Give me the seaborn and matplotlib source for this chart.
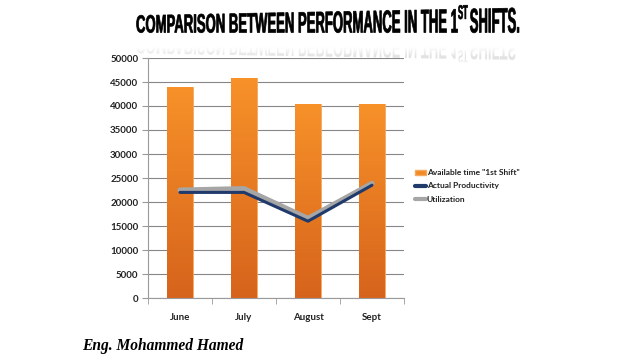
import numpy as np
import pandas as pd
import matplotlib
matplotlib.use('Agg')
import matplotlib.pyplot as plt
import seaborn as sns
from matplotlib.textpath import TextPath
from matplotlib.font_manager import FontProperties
from matplotlib.patches import PathPatch, Patch
from matplotlib.path import Path
from matplotlib.lines import Line2D

months = ["June", "July", "August", "Sept"]
available = [44000, 45800, 40400, 40400]
actual = [22000, 22000, 16000, 23500]
utilization = [22500, 22800, 16600, 23900]
yticks = list(range(0, 50001, 5000))

sns.set_style("white")
plt.rcParams['font.family'] = ['Lato', 'DejaVu Sans']

W, H = 638, 359
fig = plt.figure(figsize=(W / 100, H / 100), dpi=100)
ax = fig.add_axes([148 / W, 1 - 298 / H, (404 - 148) / W, (298 - 58) / H])

df = pd.DataFrame({"month": months, "available": available})
sns.barplot(data=df, x="month", y="available", color="#F28A24", width=0.4,
            saturation=1, ax=ax, zorder=2, edgecolor="#F5A860", linewidth=0.6)

# vertical orange gradient in each bar
grad = np.linspace(0, 1, 256).reshape(-1, 1)
top = np.array([0.97, 0.57, 0.16])
bot = np.array([0.84, 0.39, 0.11])
img = top[None, None, :] * (1 - grad[..., None]) + bot[None, None, :] * grad[..., None]
for p in list(ax.patches):
    x0, y0 = p.get_x(), p.get_y()
    w, h = p.get_width(), p.get_height()
    im = ax.imshow(img, extent=[x0, x0 + w, y0, y0 + h], aspect='auto', zorder=2.5)
    im.set_clip_path(p)

lines = pd.DataFrame({"month": months, "Actual Productivity": actual, "Utilization": utilization})
sns.lineplot(data=lines, x="month", y="Utilization", color="#A6A6A6", lw=3.6,
             ax=ax, zorder=3, sort=False, solid_capstyle='round')
sns.lineplot(data=lines, x="month", y="Actual Productivity", color="#1F3A6B", lw=2.2,
             ax=ax, zorder=4, sort=False, solid_capstyle='round')

ax.set_xlim(-0.5, 3.5)
ax.set_ylim(0, 50000)
ax.set_yticks(yticks)
ax.set_yticklabels([str(v) for v in yticks])
ax.set_xlabel("")
ax.set_ylabel("")
ax.grid(axis='y', color='#868686', lw=0.8, zorder=0)
ax.set_axisbelow(True)
for s in ["top", "right"]:
    ax.spines[s].set_visible(False)
for s in ["left", "bottom"]:
    ax.spines[s].set_color("#9a9a9a")
    ax.spines[s].set_linewidth(0.8)
ax.tick_params(axis='y', left=True, length=4, color='#9a9a9a', labelsize=7,
               labelcolor='#222222', pad=3)
ax.tick_params(axis='x', bottom=False, labelsize=7, labelcolor='#222222', pad=7)
ax.set_xticks([-0.5, 0.5, 1.5, 2.5, 3.5], minor=True)
ax.tick_params(axis='x', which='minor', bottom=True, length=4, color='#9a9a9a')
for t in ax.get_xticklabels() + ax.get_yticklabels():
    t.set_fontweight('bold')

handles = [Patch(facecolor="#F28A24", edgecolor="#F5A860"),
           Line2D([], [], color="#1F3A6B", lw=3),
           Line2D([], [], color="#A6A6A6", lw=3)]
fig.legend(handles, ['Available time "1st Shift"', "Actual Productivity", "Utilization"],
           loc="center left", bbox_to_anchor=(411 / W, 1 - 186 / H), frameon=False,
           prop={'size': 6, 'weight': 'bold'}, handlelength=1.3, handleheight=0.5,
           handletextpad=0.1, labelspacing=0.75, borderpad=0, labelcolor='#222222')

# title drawn as a path with a slight perspective (grows to the right)
fp = FontProperties(family=['Liberation Sans Narrow', 'Liberation Sans'], weight='bold')
p1 = TextPath((0, 0), "COMPARISON BETWEEN PERFORMANCE IN THE 1", size=10, prop=fp)
x = p1.get_extents().x1 + 0.3
p2 = TextPath((x, 4.0), "ST", size=5.8, prop=fp)
x = p2.get_extents().x1 + 1.6
p3 = TextPath((x, 0), "SHIFTS.", size=10, prop=fp)
verts = np.vstack([p1.vertices, p2.vertices, p3.vertices])
codes = np.concatenate([p1.codes, p2.codes, p3.codes])
xmin, xmax = verts[:, 0].min(), verts[:, 0].max()
cap = 7.3


def warp(v, base, flip=False, scale=1.0):
    xp = 136 + (v[:, 0] - xmin) / (xmax - xmin) * (519 - 136)
    hgt = (18 + (xp - 136) / (519 - 136) * 8) * scale
    if flip:
        yp = base + v[:, 1] / cap * hgt
    else:
        yp = base - v[:, 1] / cap * hgt
    return np.column_stack([xp / W, 1 - yp / H])


title_path = Path(warp(verts, 32.5), codes)
fig.patches.append(PathPatch(title_path, facecolor='black', edgecolor='black', lw=0.5,
                             transform=fig.transFigure, figure=fig))

# faded reflection
refl_path = Path(warp(verts, 38, flip=True, scale=0.9), codes)
rp = PathPatch(refl_path, facecolor='none', edgecolor='none', transform=fig.transFigure, figure=fig)
fig.patches.append(rp)
rax = fig.add_axes([0, 0, 1, 1], zorder=-1)
rax.set_xlim(0, 1)
rax.set_ylim(0, 1)
rax.axis('off')
ys = np.linspace(0, 1, 100)
alpha = np.clip((ys - 0.35) / 0.35, 0, 1) * np.clip((1.0 - ys) / 0.2, 0, 1) * 0.22
rgba = np.zeros((100, 1, 4))
rgba[..., :3] = 0.5
rgba[:, 0, 3] = alpha
rim = rax.imshow(rgba, extent=[0, 1, 1 - 64 / H, 1 - 38 / H], aspect='auto', origin='upper')
rim.set_clip_path(rp)

fig.text(82 / W, 1 - 346 / H, "Eng. Mohammed Hamed", fontsize=11.2, style='italic',
         weight='bold', family=['Liberation Serif', 'DejaVu Serif'], va='center', color='black')

fig.savefig("out.png", dpi=100, facecolor='white')
